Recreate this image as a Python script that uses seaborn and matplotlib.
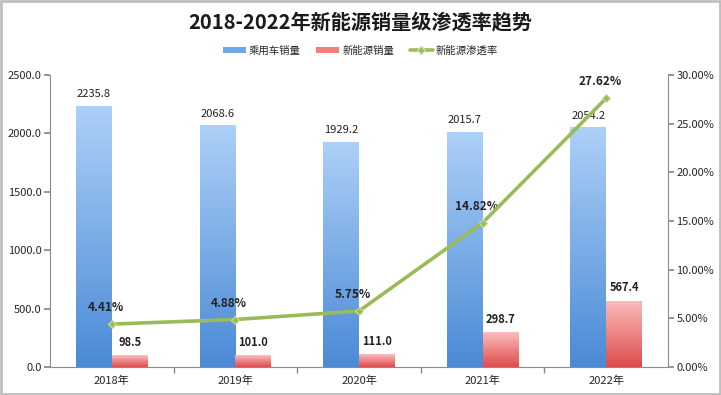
import numpy as np
import pandas as pd
import matplotlib
matplotlib.use("Agg")
import matplotlib.pyplot as plt
import seaborn as sns
from matplotlib.colors import LinearSegmentedColormap
from matplotlib.lines import Line2D
from matplotlib.patches import Patch, Rectangle

years = ["2018年", "2019年", "2020年", "2021年", "2022年"]
passenger_sales = [2235.8, 2068.6, 1929.2, 2015.7, 2054.2]
nev_sales = [98.5, 101.0, 111.0, 298.7, 567.4]
penetration = [4.41, 4.88, 5.75, 14.82, 27.62]
series_names = ["乘用车销量", "新能源销量", "新能源渗透率"]
title = "2018-2022年新能源销量级渗透率趋势"

sns.set_theme(style="white")
plt.rcParams['font.family'] = ['Noto Sans CJK SC', 'DejaVu Sans']

df = pd.DataFrame({
    "year": years * 2,
    "value": passenger_sales + nev_sales,
    "series": [series_names[0]] * 5 + [series_names[1]] * 5,
})

fig = plt.figure(figsize=(7.21, 3.95), dpi=100)
ax = fig.add_axes([0.0693, 0.0709, 0.8572, 0.7391])

blue_c = "#6FA8E8"
red_c = "#F08080"
sns.barplot(data=df, x="year", y="value", hue="series", ax=ax,
            palette=[blue_c, red_c], width=0.58, legend=False)

ax.set_ylim(0, 2500)
ax.set_xlim(-0.5, 4.5)
ax.set_xlabel("")
ax.set_ylabel("")

# gradients
cm_blue = LinearSegmentedColormap.from_list("b", ["#4A8AD6", "#ADD0F7"])
cm_red = LinearSegmentedColormap.from_list("r", ["#DE4B4B", "#FBBDBD"])
grad = np.linspace(0, 1, 256).reshape(-1, 1)
patches = list(ax.patches)
for i, p in enumerate(patches):
    x0, y0 = p.get_x(), p.get_y()
    w, h = p.get_width(), p.get_height()
    if h <= 0:
        continue
    cmap = cm_blue if i < 5 else cm_red
    im = ax.imshow(grad, extent=[x0, x0 + w, y0, y0 + h], origin="lower",
                   cmap=cmap, aspect="auto", zorder=p.get_zorder())
    im.set_clip_path(p)
    p.set_facecolor("none")
    p.set_edgecolor("none")
    cx = x0 + w / 2
    if i < 5:
        ax.text(cx, y0 + h + 55, f"{passenger_sales[i]:.1f}", ha="center",
                va="bottom", fontsize=8, color="#222222")
    else:
        ax.text(cx, y0 + h + 55, f"{nev_sales[i-5]:.1f}", ha="center",
                va="bottom", fontsize=8, fontweight="bold", color="#222222")
ax.set_xlim(-0.5, 4.5)
ax.set_ylim(0, 2500)

ax.set_yticks(np.arange(0, 2501, 500))
ax.set_yticklabels([f"{v:.1f}" for v in np.arange(0, 2501, 500)], fontsize=8)
ax.tick_params(axis="y", which="major", length=4, color="#888888", left=True, pad=2)
ax.set_xticks(range(5))
ax.set_xticklabels(years, fontsize=8)
ax.tick_params(axis="x", which="major", length=0, pad=6)
ax.set_xticks([0.5, 1.5, 2.5, 3.5], minor=True)
ax.tick_params(axis="x", which="minor", length=4, color="#888888", bottom=True)
for s in ["top", "right"]:
    ax.spines[s].set_visible(False)
for s in ["left", "bottom"]:
    ax.spines[s].set_color("#8C8C8C")
    ax.spines[s].set_linewidth(0.8)

ax2 = ax.twinx()
line_c = "#9BBB59"
sns.lineplot(x=list(range(5)), y=penetration, ax=ax2, color=line_c, linewidth=2.6,
             marker="D", markersize=4.5, markerfacecolor=line_c,
             markeredgecolor="#C8DDA0", markeredgewidth=0.8, zorder=5)
ax2.set_ylim(0, 30)
ax2.set_xlim(-0.5, 4.5)
ax2.set_yticks(np.arange(0, 31, 5))
ax2.set_yticklabels([f"{v:.2f}%" for v in np.arange(0, 31, 5)], fontsize=8)
ax2.tick_params(axis="y", length=4, color="#888888", right=True, pad=2)
for s in ["top", "left", "bottom"]:
    ax2.spines[s].set_visible(False)
ax2.spines["right"].set_color("#8C8C8C")
ax2.spines["right"].set_linewidth(0.8)
ax2.set_ylabel("")
for i, v in enumerate(penetration):
    ax2.text(i - 0.05, v + 1.0, f"{v:.2f}%", ha="center", va="bottom",
             fontsize=8.5, fontweight="bold", color="#222222")

fig.text(0.5, 0.945, title, ha="center", va="center", fontsize=14.5, fontweight="bold",
         color="#1a1a1a")

handles = [Patch(facecolor=blue_c, edgecolor="none"),
           Patch(facecolor=red_c, edgecolor="none"),
           Line2D([0], [0], color=line_c, lw=2.6, marker="D", markersize=4,
                  markerfacecolor=line_c, markeredgecolor="#C8DDA0")]
fig.legend(handles, series_names, loc="center", bbox_to_anchor=(0.5, 0.872), ncol=3,
           frameon=False, fontsize=7.5, handlelength=2.2, handleheight=0.6,
           columnspacing=1.5, handletextpad=0.3)

fig.patches.append(Rectangle((0.002, 0.003), 0.996, 0.994, transform=fig.transFigure,
                             fill=False, edgecolor="#BFBFBF", linewidth=2))

fig.savefig("out.png", dpi=100)
